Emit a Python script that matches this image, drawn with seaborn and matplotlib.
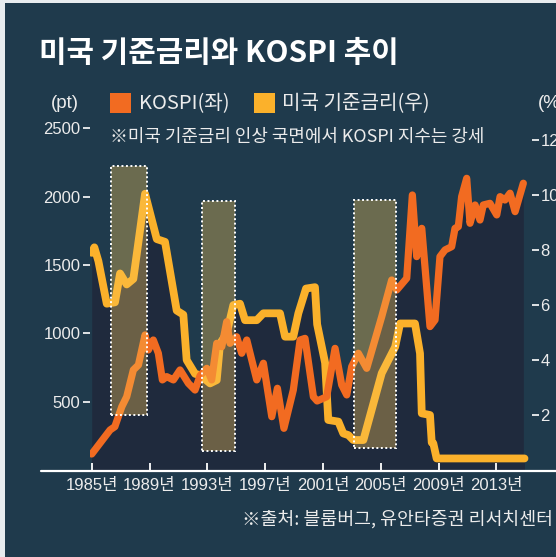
import matplotlib
matplotlib.use("Agg")
import matplotlib.pyplot as plt
from matplotlib import font_manager
from matplotlib.patches import Rectangle
from matplotlib.lines import Line2D
import seaborn as sns
import pandas as pd

# KOSPI (left axis, pt)
kospi_year = [1985.0, 1986.27, 1986.6, 1987.08, 1987.42, 1987.88, 1988.23, 1988.69, 1988.92,
              1989.26, 1989.61, 1989.89, 1990.19, 1990.42, 1990.65, 1991.11, 1991.69, 1992.15,
              1992.5, 1992.96, 1993.3, 1993.65, 1994.0, 1994.34, 1994.57, 1995.03, 1995.38,
              1995.73, 1996.42, 1996.88, 1997.46, 1997.85, 1998.3, 1998.95, 1999.42, 1999.76,
              2000.34, 2000.6, 2001.26, 2001.84, 2002.3, 2002.65, 2002.99, 2003.45, 2004.03,
              2005.07, 2005.76, 2006.11, 2006.8, 2007.19, 2007.49, 2007.84, 2008.41, 2008.76,
              2009.1, 2009.45, 2009.91, 2010.14, 2010.37, 2010.6, 2010.95, 2011.18, 2011.53,
              2011.87, 2012.1, 2012.56, 2013.03, 2013.26, 2013.6, 2013.95, 2014.3, 2014.87]
kospi_value = [117, 293, 317, 463, 536, 732, 768, 988, 878,
               951, 854, 659, 683, 671, 659, 732, 634, 585,
               690, 744, 659, 927, 902, 1085, 927, 975, 854,
               951, 659, 781, 390, 598, 305, 585, 951, 963,
               536, 505, 536, 890, 622, 549, 756, 854, 744,
               1122, 1390, 1317, 1403, 2012, 1561, 1768, 1049, 1098,
               1561, 1610, 1634, 1768, 1780, 2000, 2134, 1805, 1939,
               1829, 1939, 1951, 1866, 2000, 1975, 2025, 1890, 2098]

# US policy rate (right axis, %)
rate_year = [1985.0, 1985.18, 1985.46, 1986.04, 1986.61, 1986.96, 1987.42, 1987.88, 1988.69,
             1989.5, 1990.07, 1990.88, 1991.34, 1991.57, 1992.15, 1992.5, 1993.19, 1993.65,
             1993.88, 1994.34, 1994.8, 1995.26, 1995.61, 1996.42, 1996.88, 1998.03, 1998.38,
             1998.95, 1999.3, 1999.83, 2000.45, 2000.6, 2001.15, 2001.37, 2002.07, 2002.41,
             2002.76, 2003.1, 2003.8, 2005.07, 2006.0, 2006.34, 2007.37, 2007.72, 2007.84,
             2008.41, 2008.53, 2008.64, 2008.87, 2014.95]
rate_value = [7.9, 8.1, 7.6, 6.05, 6.1, 7.15, 6.75, 6.95, 10.05,
              8.4, 8.3, 5.8, 5.65, 4.0, 3.5, 3.45, 3.15, 3.27,
              4.6, 4.97, 6.0, 6.05, 5.45, 5.45, 5.7, 5.7, 4.85,
              4.85, 5.7, 6.6, 6.65, 5.3, 3.9, 1.82, 1.76, 1.33,
              1.27, 1.09, 1.09, 3.52, 4.48, 5.33, 5.33, 4.24, 2.06,
              2.0, 1.0, 0.97, 0.42, 0.42]

# rate-hike periods (shaded boxes), box extents in KOSPI units
hike_start = [1986.34, 1992.65, 2003.17]
hike_end = [1988.85, 1994.92, 2006.06]
hike_low = [402, 139, 159]
hike_high = [2226, 1968, 1975]

tick_years = [1985, 1989, 1993, 1997, 2001, 2005, 2009, 2013]
kospi_ticks = [500, 1000, 1500, 2000, 2500]
rate_ticks = [2, 4, 6, 8, 10, 12]

BG = "#1f3a4c"
FILL = "#1f2a3d"
ORANGE = "#f26b21"
YELLOW = "#fbb12b"
TEXT = "#ececec"

installed = {f.name for f in font_manager.fontManager.ttflist}
KR = "Noto Sans CJK KR"
NARROW = "Liberation Sans Narrow" if "Liberation Sans Narrow" in installed else "Liberation Sans"

sns.set_style("dark")
plt.rcParams['font.family'] = [KR, 'DejaVu Sans']

W, H = 556, 557


def fx(px):
    return px / W


def fy(py):
    return 1 - py / H


fig = plt.figure(figsize=(W / 100, H / 100), dpi=100, facecolor=BG)
ax = fig.add_axes([fx(90), fy(470), fx(532) - fx(90), fy(125) - fy(470)])
ax2 = ax.twinx()
ax.set_zorder(ax2.get_zorder() + 1)
ax.patch.set_visible(False)
ax2.patch.set_visible(False)

kospi_df = pd.DataFrame({"year": kospi_year, "kospi": kospi_value})
rate_df = pd.DataFrame({"year": rate_year, "rate": rate_value})

# dark area under both series
ax2.fill_between(rate_df["year"], rate_df["rate"], 0, color=FILL, lw=0, zorder=1)
ax2.fill_between(kospi_df["year"], kospi_df["kospi"], 0, color=FILL, lw=0, zorder=1,
                 transform=ax.transData)

sns.lineplot(data=rate_df, x="year", y="rate", ax=ax2, color=YELLOW, lw=5.6,
             estimator=None, solid_capstyle="round", solid_joinstyle="round", zorder=3)
sns.lineplot(data=kospi_df, x="year", y="kospi", ax=ax, color=ORANGE, lw=5.2,
             estimator=None, solid_capstyle="round", solid_joinstyle="round", zorder=3)

for s, e, lo, hi in zip(hike_start, hike_end, hike_low, hike_high):
    ax.add_patch(Rectangle((s, lo), e - s, hi - lo, facecolor=(0.98, 0.78, 0.34, 0.35),
                           edgecolor="white", linestyle=(0, (1, 1.3)), lw=1.4, zorder=5))

ax.set_xlim(1984.88, 2015.47)
ax.set_ylim(0, 2524)
ax2.set_ylim(0, 12.55)
for a in (ax, ax2):
    a.set_xlabel("")
    a.set_ylabel("")
    a.grid(False)
    for sp in a.spines.values():
        sp.set_visible(False)

ax.set_xticks(tick_years, labels=[f"{y}년" for y in tick_years])
ax.set_yticks(kospi_ticks, labels=[str(v) for v in kospi_ticks])
ax2.set_yticks(rate_ticks, labels=[str(v) for v in rate_ticks])
ax.tick_params(axis="x", direction="in", length=5, width=1.3, color="white",
               labelcolor=TEXT, labelsize=12, pad=6, bottom=True)
ax.tick_params(axis="y", direction="out", length=5, width=1.2, color="white",
               labelcolor=TEXT, labelsize=12, pad=2, left=True)
ax2.tick_params(axis="y", direction="out", length=5, width=1.2, color="white",
                labelcolor=TEXT, labelsize=12, pad=1, right=True)
for lab in ax.get_xticklabels():
    lab.set_fontfamily([NARROW, KR])
for lab in ax.get_yticklabels() + ax2.get_yticklabels():
    lab.set_fontfamily(["Liberation Sans", KR])

# baseline running past the plot area
fig.add_artist(Line2D([fx(41), 1], [fy(470.5), fy(470.5)], color="white", lw=1.6))

# page margin strips
fig.patches.append(Rectangle((0, 0), fx(5), 1, transform=fig.transFigure,
                             facecolor="#e8ecef", edgecolor="none"))
fig.patches.append(Rectangle((0, fy(2.5)), 1, 1 - fy(2.5), transform=fig.transFigure,
                             facecolor="#e8ecef", edgecolor="none"))

fig.text(fx(39), fy(53), "미국 기준금리와 KOSPI 추이", color="white", fontsize=21.5,
         fontweight="bold", ha="left", va="center")
fig.text(fx(65), fy(103), "(pt)", color=TEXT, fontsize=13.5, ha="center", va="center",
         family=["Liberation Sans", KR])
fig.text(fx(538), fy(103), "(%)", color=TEXT, fontsize=13.5, ha="left", va="center",
         family=["Liberation Sans", KR])
fig.patches.append(Rectangle((fx(110), fy(113)), fx(21), fx(20), transform=fig.transFigure,
                             facecolor=ORANGE, edgecolor="none"))
fig.patches.append(Rectangle((fx(254), fy(113)), fx(21), fx(20), transform=fig.transFigure,
                             facecolor=YELLOW, edgecolor="none"))
fig.text(fx(139), fy(104), "KOSPI(좌)", color=TEXT, fontsize=14.5, ha="left", va="center")
fig.text(fx(282), fy(104), "미국 기준금리(우)", color=TEXT, fontsize=14.5, ha="left", va="center")
fig.text(fx(110), fy(137), "※미국 기준금리 인상 국면에서 KOSPI 지수는 강세", color=TEXT,
         fontsize=12.9, ha="left", va="center")
fig.text(fx(553), fy(519), "※출처: 블룸버그, 유안타증권 리서치센터", color=TEXT,
         fontsize=13.2, ha="right", va="center")

fig.savefig("out.png", dpi=100, facecolor=BG)
